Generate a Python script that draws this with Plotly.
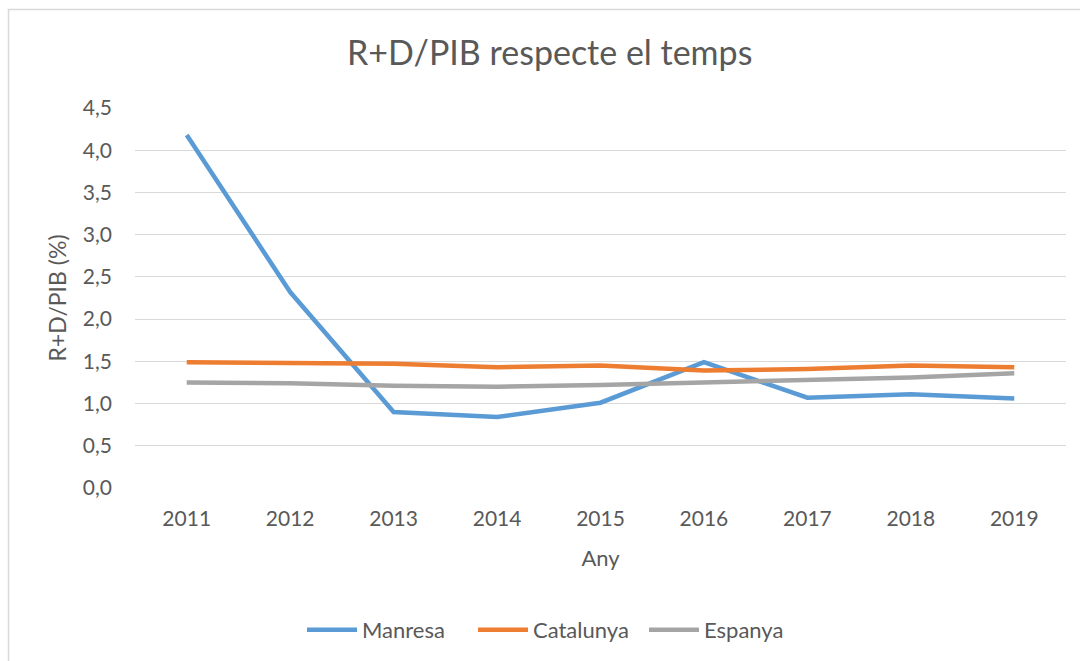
import plotly.graph_objects as go

years = ["2011", "2012", "2013", "2014", "2015", "2016", "2017", "2018", "2019"]
manresa = [4.18, 2.32, 0.90, 0.84, 1.01, 1.49, 1.07, 1.11, 1.06]
catalunya = [1.49, 1.48, 1.47, 1.43, 1.45, 1.39, 1.41, 1.45, 1.43]
espanya = [1.25, 1.24, 1.21, 1.20, 1.22, 1.25, 1.28, 1.31, 1.36]
y_ticks = [0, 0.5, 1.0, 1.5, 2.0, 2.5, 3.0, 3.5, 4.0, 4.5]
y_labels = ["0,0", "0,5", "1,0", "1,5", "2,0", "2,5", "3,0", "3,5", "4,0", "4,5"]

FONT = "Lato"
TXT = "#595959"

fig = go.Figure()
for name, vals, col in [("Manresa", manresa, "#5B9BD5"),
                        ("Catalunya", catalunya, "#ED7D31"),
                        ("Espanya", espanya, "#A5A5A5")]:
    fig.add_trace(go.Scatter(x=years, y=vals, name=name, mode="lines",
                             line=dict(color=col, width=4.5)))

W, H = 1080, 661
L, R, T, B = 135, 14, 108, 173
pw, ph = W - L - R, H - T - B

def px(xp):
    return (xp - L) / pw

def py(yp):
    return (H - B - yp) / ph

fig.update_layout(
    width=W, height=H,
    margin=dict(l=L, r=R, t=T, b=B, autoexpand=False),
    paper_bgcolor="white", plot_bgcolor="white",
    font=dict(family=FONT, color=TXT, size=21),
    title=dict(text="R+D/PIB respecte el temps", x=0.509, xanchor="center",
               y=1 - 53 / H, yanchor="middle",
               font=dict(size=34, color=TXT, family=FONT)),
    xaxis=dict(type="category", range=[-0.5, 8.5], showgrid=False, zeroline=False,
               showline=False, ticks="", ticklabelstandoff=16,
               title=dict(text="Any", standoff=21, font=dict(size=22, color=TXT))),
    yaxis=dict(range=[0, 4.5], tickvals=y_ticks, ticktext=y_labels,
               showgrid=True, gridcolor="#D9D9D9", gridwidth=1.3,
               zeroline=False, showline=False, ticks="", ticklabelstandoff=22,
               title=dict(text="R+D/PIB (%)", standoff=9, font=dict(size=23, color=TXT))),
    legend=dict(orientation="h", x=px(302), xanchor="left", y=py(630), yanchor="middle",
                font=dict(size=22, color=TXT), itemwidth=50, entrywidth=106),
    showlegend=True,
    shapes=[dict(type="rect", xref="paper", yref="paper",
                 x0=px(8.5), x1=px(1090), y0=py(670), y1=py(9.5),
                 line=dict(color="#D9D9D9", width=1.5), fillcolor="rgba(0,0,0,0)",
                 layer="below")],
)

fig.write_html("out.html", config={"displayModeBar": False},
               post_script="document.body.style.margin='0';document.body.style.overflow='hidden';")
